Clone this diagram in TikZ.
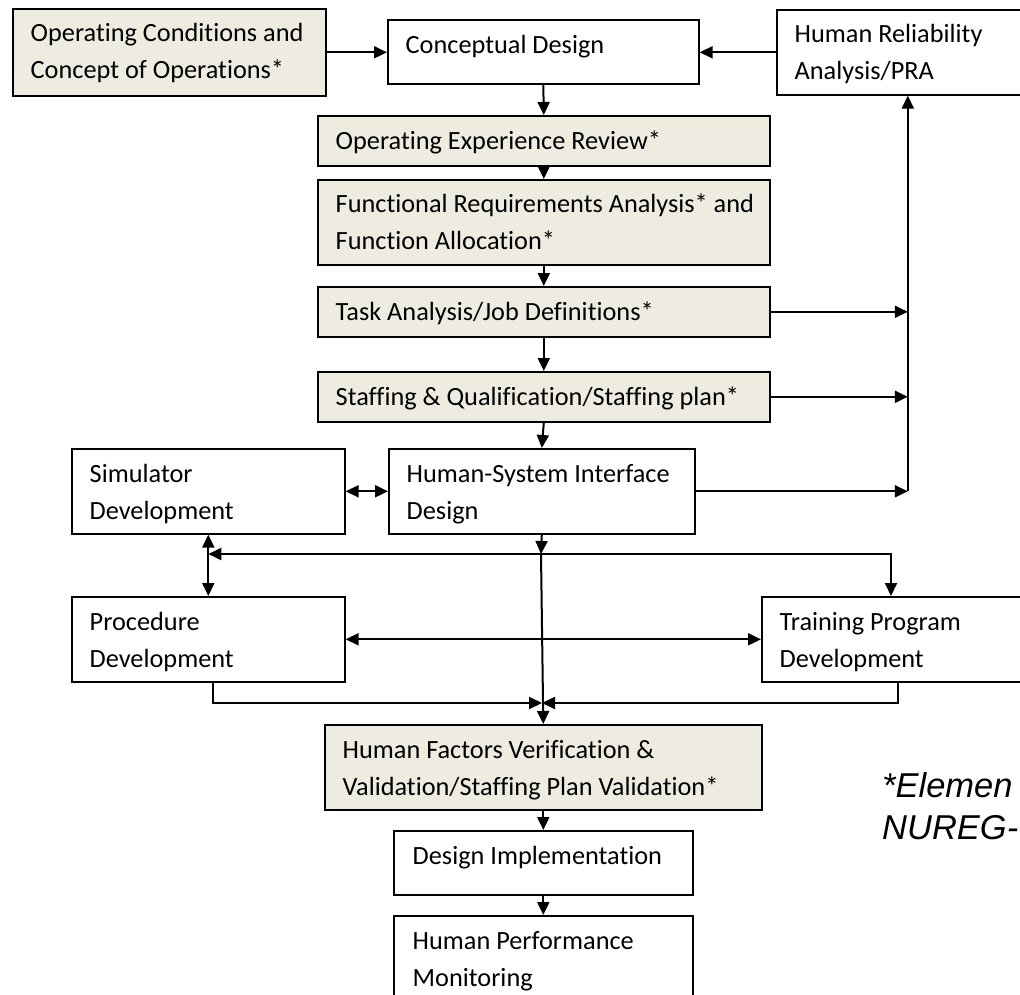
\documentclass[tikz,border=0pt]{standalone}
\usepackage{fontspec}
\setmainfont{Carlito}[Ligatures=NoCommon]
\newfontfamily\notefont{Liberation Sans}
\usetikzlibrary{arrows.meta}
\definecolor{tanbg}{HTML}{EEECE1}
\newcommand\TwoL[2]{\vtop{\baselineskip=37pt\hbox{#1}\hbox{#2}}}
\begin{document}
\begin{tikzpicture}[x=1pt,y=-1pt,
  box/.style={draw=black, line width=1.6pt, fill=white, inner sep=0pt, anchor=north west},
  tanbox/.style={box, fill=tanbg},
  txt/.style={font=\fontsize{26.3}{37}\selectfont, inner sep=0pt, anchor=base west},
  conn/.style={line width=2pt, -{Triangle[length=13pt,width=12pt]}},
  dconn/.style={line width=2pt, {Triangle[length=13pt,width=12pt]}-{Triangle[length=13pt,width=12pt]}},
  note/.style={font=\notefont\itshape\fontsize{34.5}{42}\selectfont, inner sep=0pt, anchor=base west}]
\clip (0,0) rectangle (1020,995);
\fill[white] (0,0) rectangle (1020,995);

% boxes
\node[tanbox, minimum width=313pt, minimum height=87pt] (A) at (12,8) {};
\node[box, minimum width=311pt, minimum height=64pt] (CD) at (387,19) {};
\node[box, minimum width=262pt, minimum height=85pt] (HRA) at (776,9) {};
\node[tanbox, minimum width=452pt, minimum height=50pt] (OER) at (317,115) {};
\node[tanbox, minimum width=452pt, minimum height=85pt] (FRA) at (317,179) {};
\node[tanbox, minimum width=452pt, minimum height=50pt] (TA) at (317,286) {};
\node[tanbox, minimum width=452pt, minimum height=50pt] (SQ) at (317,371) {};
\node[box, minimum width=273pt, minimum height=85pt] (SIM) at (71,448) {};
\node[box, minimum width=306pt, minimum height=85pt] (HSI) at (388,448) {};
\node[box, minimum width=273pt, minimum height=85pt] (PROC) at (71,596) {};
\node[box, minimum width=280pt, minimum height=85pt] (TRN) at (761,596) {};
\node[tanbox, minimum width=437pt, minimum height=85pt] (HFV) at (324,724) {};
\node[box, minimum width=299pt, minimum height=64pt] (DI) at (393,830) {};
\node[box, minimum width=299pt, minimum height=100pt] (HPM) at (393,915) {};

% texts
\node[txt] (A-t) at ([shift={(18.5,34)}]A.north west) {\TwoL{Operating Conditions and}{Concept of Operations*}};
\node[txt] (CD-t) at ([shift={(18.5,35)}]CD.north west) {Conceptual Design};
\node[txt] (HRA-t) at ([shift={(18.5,34)}]HRA.north west) {\TwoL{Human Reliability}{Analysis/PRA}};
\node[txt] (OER-t) at ([shift={(18.5,35)}]OER.north west) {Operating Experience Review*};
\node[txt] (FRA-t) at ([shift={(18.5,34)}]FRA.north west) {\TwoL{Functional Requirements Analysis* and}{Function Allocation*}};
\node[txt] (TA-t) at ([shift={(18.5,34)}]TA.north west) {Task Analysis/Job Definitions*};
\node[txt] (SQ-t) at ([shift={(18.5,34)}]SQ.north west) {Staffing \& Qualification/Staffing plan*};
\node[txt] (SIM-t) at ([shift={(18.5,34.5)}]SIM.north west) {\TwoL{Simulator}{Development}};
\node[txt] (HSI-t) at ([shift={(18.5,34.5)}]HSI.north west) {\TwoL{Human-System Interface}{Design}};
\node[txt] (PROC-t) at ([shift={(18.5,34.5)}]PROC.north west) {\TwoL{Procedure}{Development}};
\node[txt] (TRN-t) at ([shift={(18.5,34.5)}]TRN.north west) {\TwoL{Training Program}{Development}};
\node[txt] (HFV-t) at ([shift={(18.5,34)}]HFV.north west) {\TwoL{Human Factors Verification \&}{Validation/Staffing Plan Validation*}};
\node[txt] (DI-t) at ([shift={(19.5,34)}]DI.north west) {Design Implementation};
\node[txt] (HPM-t) at ([shift={(19.5,34)}]HPM.north west) {\TwoL{Human Performance}{Monitoring}};

\node[note] (NOTE) at (882,797) {\vtop{\baselineskip=42pt\hbox{*Elemen}\hbox{NUREG-}}};

% junction coordinates
\coordinate (j1) at (541,554);
\coordinate (j3) at (891,554);
\coordinate (j4) at (542,703);
\coordinate (bus) at (HSI.east -| HRA.south);

% connectors
\draw[conn] (A.east) -- (A.east -| CD.west);
\draw[conn] (HRA.west) -- (HRA.west -| CD.east);
\draw[conn] (CD.south) -- (OER.north);
\draw[conn] (OER.south) -- (FRA.north);
\draw[conn] (FRA.south) -- (TA.north);
\draw[conn] (TA.south) -- (SQ.north);
\draw[conn] (SQ.south) -- (HSI.north);
\draw[dconn] (SIM.east) -- (HSI.west);
\draw[conn] (TA.east) -- (TA.east -| HRA.south);
\draw[conn] (SQ.east) -- (SQ.east -| HRA.south);
\draw[conn] (HSI.east) -- (bus);
\draw[conn] (bus) -- (HRA.south);
\draw[conn] (HSI.south) -- (j1);
\draw[conn] (j1) -- (SIM.south |- j1);
\draw[conn] (j1) -- (j3) -- (j3 |- TRN.north);
\draw[dconn] (SIM.south) -- (PROC.north);
\draw[dconn] (PROC.east) -- (TRN.west);
\draw[conn] (j1) -- (HFV.north);
\draw[conn] ([xshift=4.5pt]PROC.south) |- (j4);
\draw[conn] ([xshift=-4pt]TRN.south) |- (j4);
\draw[conn] (HFV.south) -- (DI.north);
\draw[conn] (DI.south) -- (HPM.north);
\end{tikzpicture}
\end{document}
